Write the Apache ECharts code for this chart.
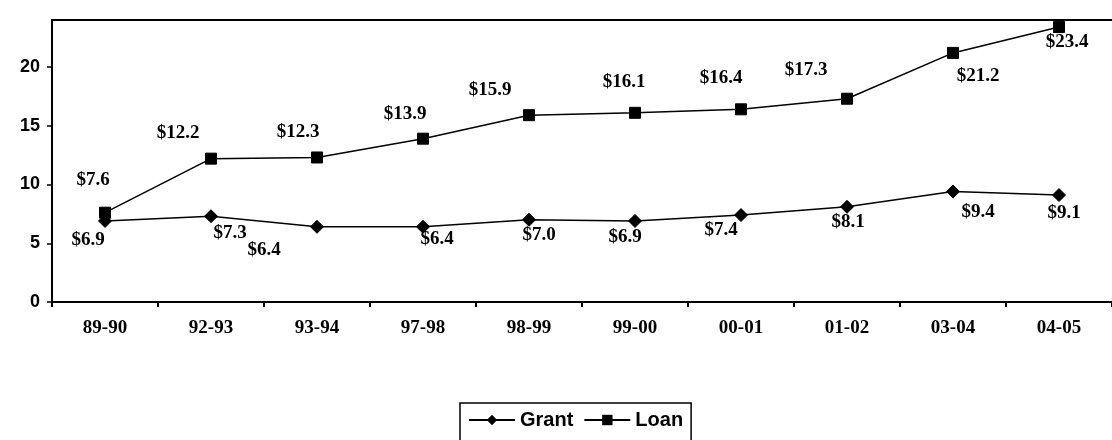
<!DOCTYPE html>
<html>
<head>
<meta charset="utf-8">
<script src="https://cdn.jsdelivr.net/npm/echarts@6/dist/echarts.min.js"></script>
<style>
html,body{margin:0;padding:0;background:#fff;}
#chart{width:1112px;height:440px;}
</style>
</head>
<body>
<div id="chart"></div>
<script>
const categories = ['89-90','92-93','93-94','97-98','98-99','99-00','00-01','01-02','03-04','04-05'];
const grantValues = [6.9, 7.3, 6.4, 6.4, 7.0, 6.9, 7.4, 8.1, 9.4, 9.1];
const loanValues = [7.6, 12.2, 12.3, 13.9, 15.9, 16.1, 16.4, 17.3, 21.2, 23.4];
const yTickValues = [0, 5, 10, 15, 20];

// label placement (styling only)
const grantLabelOffsets = [[-17,19],[19,17],[-53,23],[14,12],[10,15],[-10,16],[-20,15],[1,15],[25,21],[5,18]];
const loanLabelOffsets = [[-12,-33],[-33,-26],[-19,-25],[-18,-25],[-39,-25],[-11,-31],[-20,-31],[-41,-29],[25,23],[8,15]];

const labelFont = {fontFamily:'Liberation Serif', fontWeight:'bold', fontSize:19, color:'#000'};

function buildData(values, offsets){
  return values.map((v,i)=>({
    value:v,
    label:{show:true, position:'inside', offset:offsets[i], formatter:'$'+v.toFixed(1), ...labelFont}
  }));
}

const chart = echarts.init(document.getElementById('chart'), null, {renderer:'canvas'});
chart.setOption({
  animation:false,
  backgroundColor:'#fff',
  grid:{left:52, right:0, top:20, bottom:138},
  legend:{
    data:['Grant','Loan'],
    left:460, top:403,
    borderColor:'#000', borderWidth:1.5, borderRadius:0,
    padding:[7,8,12,8],
    itemWidth:46, itemHeight:13, itemGap:10,
    textStyle:{fontFamily:'Liberation Sans', fontWeight:'bold', fontSize:20, color:'#000'}
  },
  xAxis:[{
    type:'category', data:categories, boundaryGap:true,
    axisLine:{lineStyle:{color:'#000', width:2}},
    axisTick:{show:true, length:5, lineStyle:{color:'#000', width:2}},
    axisLabel:{margin:17, fontFamily:'Liberation Serif', fontWeight:'bold', fontSize:19, color:'#000'},
    splitLine:{show:false}
  },{
    type:'category', data:categories, position:'top', boundaryGap:true,
    axisLine:{show:true, lineStyle:{color:'#000', width:2}},
    axisTick:{show:false}, axisLabel:{show:false}, splitLine:{show:false}
  }],
  yAxis:{
    type:'value', min:0, max:24, interval:5,
    axisLine:{show:true, lineStyle:{color:'#000', width:2}},
    axisTick:{show:true, length:5, lineStyle:{color:'#000', width:1.5}, customValues:yTickValues},
    axisLabel:{margin:12, fontFamily:'Liberation Sans', fontWeight:'bold', fontSize:18, color:'#000', customValues:yTickValues},
    splitLine:{show:false}
  },
  series:[{
    name:'Grant', type:'line', data:buildData(grantValues, grantLabelOffsets),
    symbol:'diamond', symbolSize:13,
    lineStyle:{color:'#000', width:1.5},
    itemStyle:{color:'#000', borderColor:'#000'}
  },{
    name:'Loan', type:'line', data:buildData(loanValues, loanLabelOffsets),
    symbol:'rect', symbolSize:11,
    lineStyle:{color:'#000', width:1.5},
    itemStyle:{color:'#000', borderColor:'#000'}
  }]
});
</script>
</body>
</html>
